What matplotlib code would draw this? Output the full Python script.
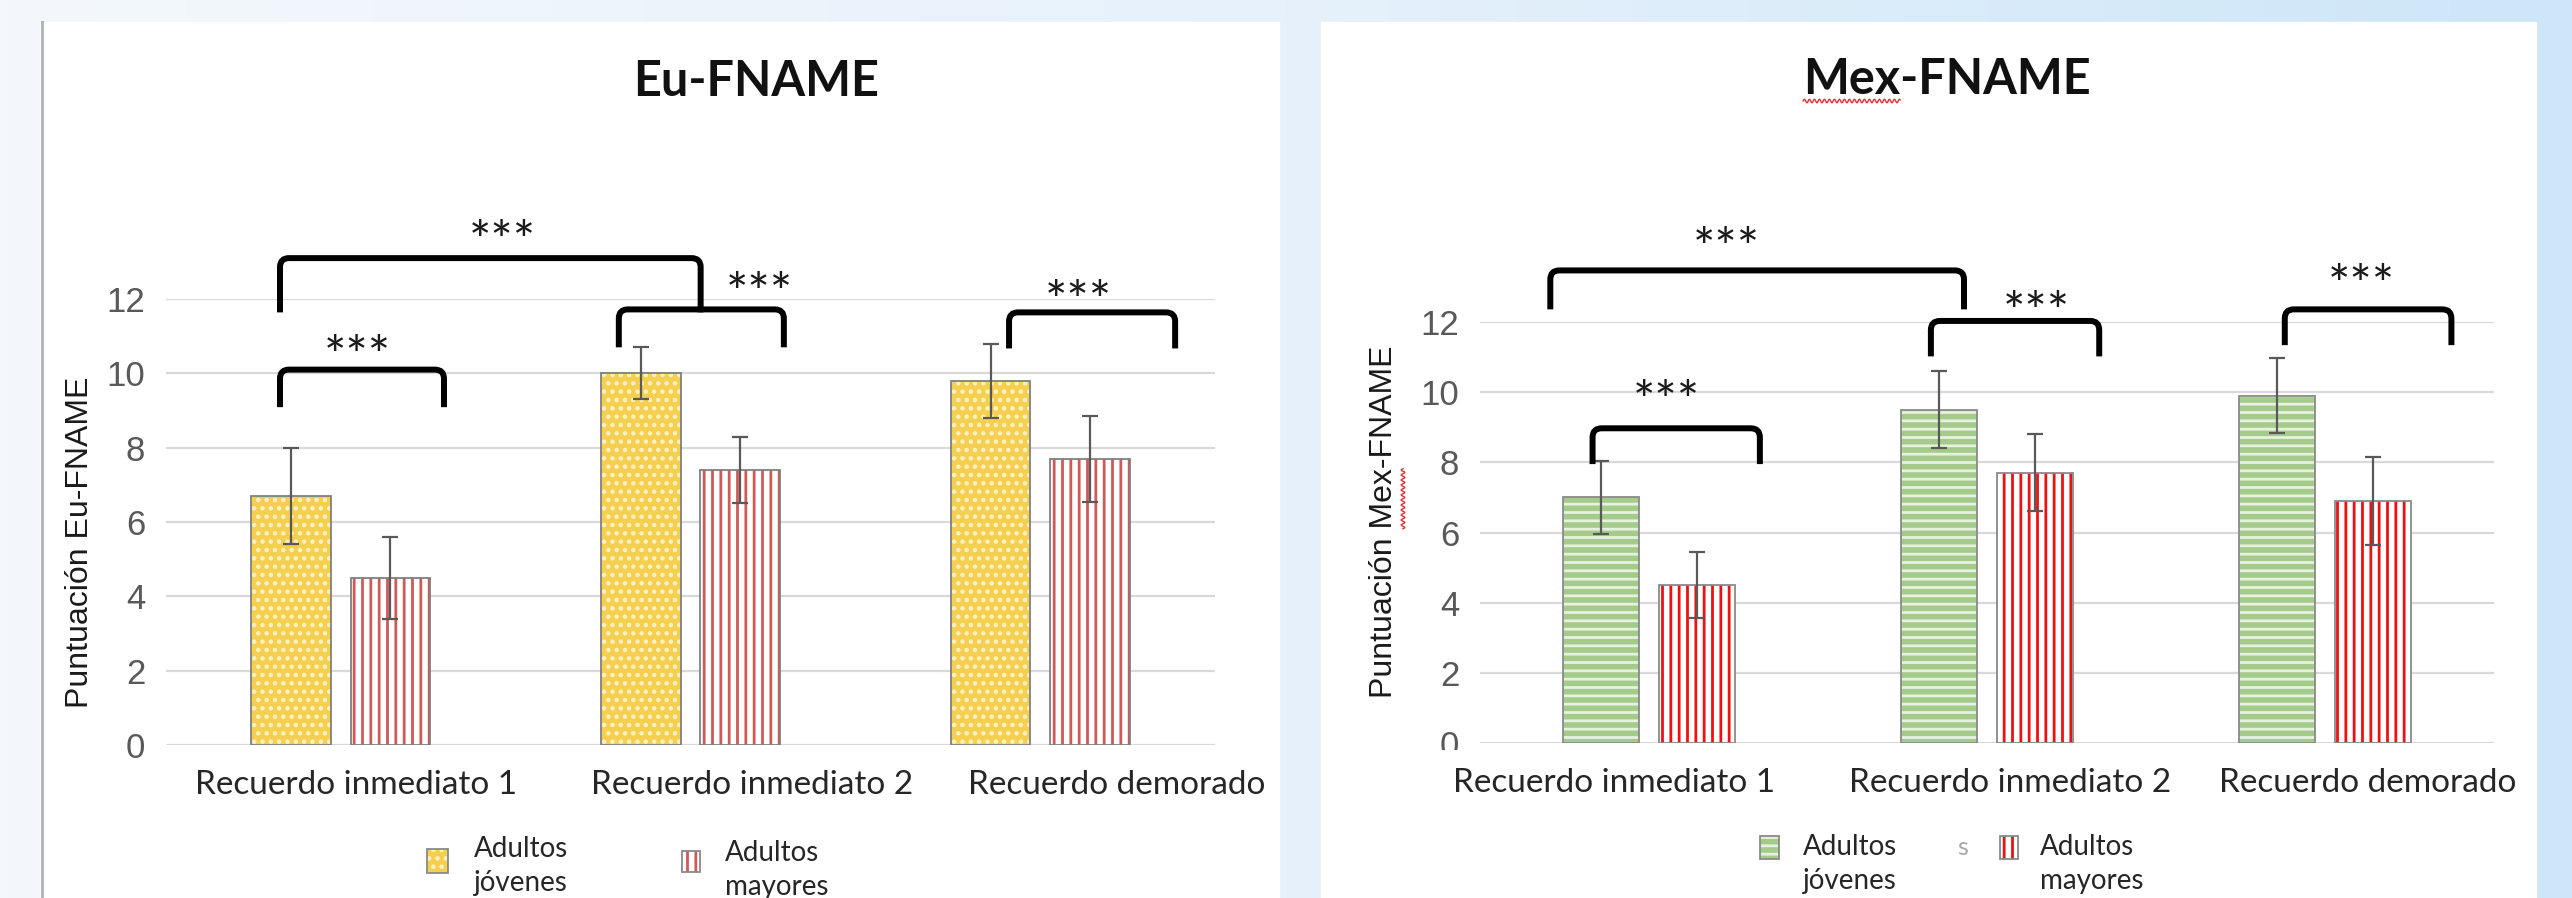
import numpy as np
import matplotlib
matplotlib.use("Agg")
import matplotlib.pyplot as plt
from matplotlib.patches import Rectangle, PathPatch
from matplotlib.lines import Line2D
from matplotlib.path import Path
from matplotlib.transforms import Bbox, IdentityTransform

W, H = 2572, 898

categories = ["Recuerdo inmediato 1", "Recuerdo inmediato 2", "Recuerdo demorado"]
group_names = ["Adultos\njóvenes", "Adultos\nmayores"]
yticks = [0, 2, 4, 6, 8, 10, 12]

# Eu-FNAME: media y desviación por grupo de edad
eu_young = [6.7, 10.0, 9.8]
eu_young_sd = [1.3, 0.7, 1.0]
eu_old = [4.5, 7.4, 7.7]
eu_old_sd = [1.1, 0.9, 1.15]

# Mex-FNAME
mex_young = [7.0, 9.5, 9.9]
mex_young_sd = [1.05, 1.1, 1.07]
mex_old = [4.5, 7.7, 6.9]
mex_old_sd = [0.95, 1.1, 1.25]

SIG = "***"

# corchetes de significación: x izq, x der, y arriba, y patas, x texto, y texto
eu_brackets = [
    (-0.174, 0.295, 10.1, 9.09, 0.046, 10.77),
    (-0.174, 1.029, 13.1, 11.64, 0.463, 13.87),
    (0.795, 1.267, 11.72, 10.7, 1.198, 12.45),
    (1.911, 2.386, 11.64, 10.67, 2.108, 12.25),
]
mex_brackets = [
    (-0.167, 0.328, 8.97, 7.95, 0.05, 10.07),
    (-0.292, 0.932, 13.47, 12.36, 0.230, 14.44),
    (0.834, 1.332, 12.03, 11.02, 1.146, 12.6),
    (1.881, 2.374, 12.36, 11.34, 2.109, 13.36),
]

plt.rcParams["hatch.linewidth"] = 2.0
TXT = "Lato"
NUM = ["Liberation Sans Narrow", "Liberation Sans"]


def fx(x):
    return x / W


def fy(y):
    return 1 - y / H


def ax_rect(x0, y0, x1, y1):
    return [x0 / W, 1 - y1 / H, (x1 - x0) / W, (y1 - y0) / H]


def bracket(ax, x0, x1, ytop, ybot, ppx, ppy, r=9):
    rx, ry = r / ppx, r / ppy
    verts = [(x0, ybot), (x0, ytop - ry), (x0, ytop), (x0 + rx, ytop),
             (x1 - rx, ytop), (x1, ytop), (x1, ytop - ry), (x1, ybot)]
    codes = [Path.MOVETO, Path.LINETO, Path.CURVE3, Path.CURVE3,
             Path.LINETO, Path.CURVE3, Path.CURVE3, Path.LINETO]
    ax.add_patch(PathPatch(Path(verts, codes), fill=False, ec="black",
                           lw=4.3, capstyle="butt", joinstyle="round",
                           clip_on=False, zorder=6))


def draw_chart(ax, young, young_sd, old, old_sd, style, brackets, shifts):
    x = np.arange(len(categories))
    width, off = 0.227, 0.142
    for xs, vals, sd, (face, hc, hatch) in [
        (x - off, young, young_sd, style[0]),
        (x + off, old, old_sd, style[1]),
    ]:
        ax.bar(xs, vals, width, color=face, edgecolor=hc, hatch=hatch,
               lw=0, zorder=2)
        ax.bar(xs, vals, width, fill=False, edgecolor=style[2], lw=1.3,
               zorder=3)
        ax.errorbar(xs, vals, yerr=sd, fmt="none", ecolor="#595959",
                    elinewidth=1.6, capsize=6, capthick=1.6, zorder=4)

    ax.set_xlim(-0.5, 2.5)
    ax.set_ylim(0, 12)
    ax.set_facecolor("none")
    for sp in ax.spines.values():
        sp.set_visible(False)
    ax.set_yticks(yticks)
    ax.yaxis.grid(True, color="#d9d9d9", lw=1.6)
    ax.set_axisbelow(True)
    ax.tick_params(length=0)
    ax.tick_params(axis="y", pad=15, labelsize=25, labelcolor="#595959")
    for lbl in ax.get_yticklabels():
        lbl.set_fontfamily(NUM)
    ax.set_xticks(x + np.array(shifts), categories)
    ax.tick_params(axis="x", pad=18, labelsize=24, labelcolor="#262626")
    for lbl in ax.get_xticklabels():
        lbl.set_fontfamily(TXT)

    pos = ax.get_position()
    ppx = pos.width * W / 3
    ppy = pos.height * H / 12
    for x0, x1, yt, yb, tx, ty in brackets:
        bracket(ax, x0, x1, yt, yb, ppx, ppy)
        ax.annotate(SIG, (tx, ty), xytext=(0, -21), textcoords="offset points",
                    ha="center", va="baseline", fontsize=38, family=TXT,
                    color="#1a1a1a", annotation_clip=False)


def legend_entry(fig, box, face, hc, hatch, ec, tx, base, name):
    x0, y0, x1, y1 = box
    fig.add_artist(Rectangle((fx(x0), fy(y1)), (x1 - x0) / W, (y1 - y0) / H,
                             transform=fig.transFigure, facecolor=face,
                             edgecolor=hc, hatch=hatch, lw=0))
    fig.add_artist(Rectangle((fx(x0), fy(y1)), (x1 - x0) / W, (y1 - y0) / H,
                             transform=fig.transFigure, fill=False,
                             edgecolor=ec, lw=1.3))
    for i, line in enumerate(name.split("\n")):
        fig.text(fx(tx), fy(base + 34 * i), line, ha="left", va="baseline",
                 fontsize=20, family=TXT, color="#262626")


def squiggle(fig, a0, a1, c, vertical=False):
    t = np.arange(a0, a1, 0.5)
    w = c + 1.8 * np.sin((t - a0) / 5.0 * 2 * np.pi)
    xs, ys = (w, t) if vertical else (t, w)
    fig.add_artist(Line2D(xs, ys, transform=IdentityTransform(),
                          color="#e03030", lw=1.0))


fig = plt.figure(figsize=(W / 100, H / 100), dpi=100)

# fondo degradado azul claro y paneles blancos
bg = fig.add_axes([0, 0, 1, 1], zorder=-10)
xs = np.linspace(0, 1, 400)
r = np.interp(xs, [0, 0.5, 1], [244, 230, 205])
g = np.interp(xs, [0, 0.5, 1], [248, 241, 230])
b = np.interp(xs, [0, 0.5, 1], [252, 251, 248])
grad = np.stack([r, g, b], axis=-1)[None, :, :] / 255
bg.imshow(np.repeat(grad, 2, axis=0), aspect="auto", extent=[0, 1, 0, 1])
bg.set_axis_off()
for x0, x1 in [(40, 1279), (1321, 2536)]:
    fig.add_artist(Rectangle((fx(x0), 0), (x1 - x0) / W, fy(22),
                             transform=fig.transFigure, color="white",
                             zorder=-5))
fig.add_artist(Line2D([fx(41.5), fx(41.5)], [0, fy(22)],
                      transform=fig.transFigure, color="#b2b6ba", lw=2.2,
                      zorder=-4))

eu_style = [("#f5cf4f", "#fdf1c4", ".."), ("white", "#cf5a58", "||"),
            "#808080"]
mex_style = [("#a5cb8a", "#e6f1de", "--"), ("white", "#ee1111", "||"),
             "#8a8a8a"]

ax1 = fig.add_axes(ax_rect(166, 299, 1215, 745))
draw_chart(ax1, eu_young, eu_young_sd, eu_old, eu_old_sd, eu_style,
           eu_brackets, [0.043, 0.177, 0.22])
ax2 = fig.add_axes(ax_rect(1480, 322, 2494, 743))
draw_chart(ax2, mex_young, mex_young_sd, mex_old, mex_old_sd, mex_style,
           mex_brackets, [-0.103, 0.068, 0.127])

t1 = fig.text(fx(756), fy(96), "Eu-FNAME", ha="center", va="baseline",
              fontsize=35, fontweight="bold", family=TXT, color="#111111")
t2 = fig.text(fx(1947), fy(94), "Mex-FNAME", ha="center", va="baseline",
              fontsize=35, fontweight="bold", family=TXT, color="#111111")

yl1 = fig.text(fx(80), fy(542), "Puntuación Eu-FNAME", rotation=90,
               ha="center", va="center", fontsize=23,
               family="Liberation Sans", color="#1a1a1a")
yl2 = fig.text(fx(1384), fy(522), "Puntuación Mex-FNAME", rotation=90,
               ha="center", va="center", fontsize=23,
               family="Liberation Sans", color="#1a1a1a")

legend_entry(fig, (427, 849, 448, 873), *eu_style[0], "#8a8a8a", 474, 857,
             group_names[0])
legend_entry(fig, (682, 851, 700, 872), *eu_style[1], "#8a8a8a", 725, 861,
             group_names[1])
legend_entry(fig, (1760, 836, 1779, 859), *mex_style[0], "#8a8a8a", 1803, 855,
             group_names[0])
legend_entry(fig, (2000, 836, 2018, 859), *mex_style[1], "#8a8a8a", 2040, 855,
             group_names[1])
fig.text(fx(1963), fy(855), "s", ha="center", va="baseline", fontsize=18,
         family=TXT, color="#a8a8a8")

fig.canvas.draw()
rend = fig.canvas.get_renderer()

# el "0" del eje derecho queda recortado por abajo
zero = ax2.get_yticklabels()[0]
zero.set_clip_box(Bbox.from_extents(0, H - 750, W, H))
zero.set_clip_on(True)

# subrayado ondulado rojo bajo "Mex"
fp = t2.get_fontproperties()
w_mex, _, _ = rend.get_text_width_height_descent("Mex", fp, ismath=False)
bb = t2.get_window_extent(rend)
squiggle(fig, bb.x0, bb.x0 + w_mex, H - 101)

fp = yl2.get_fontproperties()
w0, _, _ = rend.get_text_width_height_descent("Puntuación ", fp, ismath=False)
w1, _, _ = rend.get_text_width_height_descent("Puntuación Mex", fp,
                                               ismath=False)
_, _, desc = rend.get_text_width_height_descent("Puntuación Mex-FNAME", fp,
                                                 ismath=False)
bb = yl2.get_window_extent(rend)
squiggle(fig, bb.y0 + w0, bb.y0 + w1, bb.x1 - desc + 4, vertical=True)

fig.savefig("out.png", dpi=100)
